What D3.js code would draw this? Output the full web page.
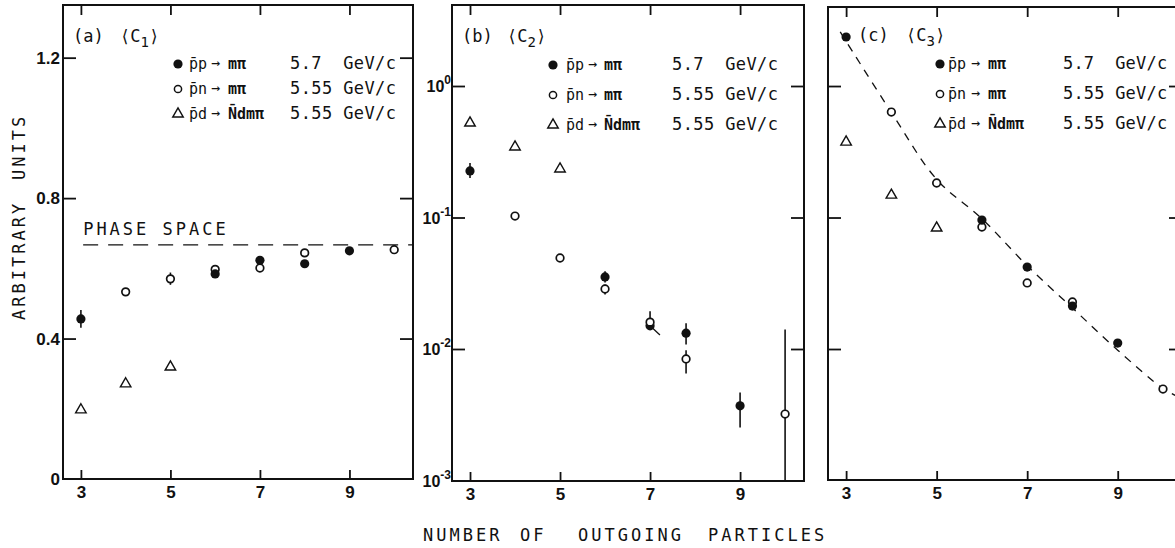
<!DOCTYPE html>
<html><head><meta charset="utf-8">
<script src="https://cdn.jsdelivr.net/npm/d3@7"></script>
<style>
body{margin:0;background:#fff;}
svg{display:block;}
text{fill:#111;white-space:pre;}
.mono{font-family:"DejaVu Sans Mono",monospace;}
.tk{font-family:"Liberation Sans",Arial,sans-serif;font-weight:bold;}
</style></head><body>
<svg id="chart" width="1175" height="548"></svg>
<script>
// ---------------- data ----------------
const xTicks = [3, 5, 7, 9];
const aYTicks = [0, 0.4, 0.8, 1.2];
const logTicks = [1e-3, 1e-2, 1e-1, 1];
const logExp = ["-3", "-2", "-1", "0"];

// panel (a) <C1>
const aFilledX = [3, 6, 7, 8, 9];
const aFilledY = [0.456, 0.584, 0.623, 0.613, 0.650];
const aFilledErr = [[0.431, 0.481], null, null, null, null];
const aOpenX = [4, 5, 6, 7, 8, 10];
const aOpenY = [0.533, 0.570, 0.597, 0.601, 0.644, 0.653];
const aOpenErr = [null, [0.553, 0.588], null, null, null, null];
const aTriX = [3, 4, 5];
const aTriY = [0.197, 0.271, 0.319];
const phaseX = [3.05, 10.4];
const phaseY = [0.667, 0.667];

// panel (b) <C2>
const bFilledX = [3, 6, 7, 7.8, 9];
const bFilledY = [0.226, 0.0353, 0.0150, 0.0132, 0.0037];
const bFilledErr = [[0.200, 0.260], [0.032, 0.039], null, [0.0108, 0.0157], [0.00253, 0.00467]];
const bOpenX = [4, 5, 6, 7, 7.8, 10];
const bOpenY = [0.1026, 0.0492, 0.0286, 0.0160, 0.0084, 0.0032];
const bOpenErr = [null, null, [0.026, 0.031], [0.0143, 0.0194], [0.0065, 0.0098], [0.001, 0.0141]];
const bTriX = [3, 4, 5];
const bTriY = [0.523, 0.344, 0.234];
const bSlashX = [7, 7.22];
const bSlashY = [0.0150, 0.0128];

// panel (c) <C3>
const cFilledX = [3, 6, 7, 8, 9];
const cFilledY = [2.36, 0.0957, 0.0420, 0.0212, 0.0111];
const cOpenX = [4, 5, 6, 7, 8, 10];
const cOpenY = [0.634, 0.183, 0.0847, 0.0318, 0.0228, 0.00496];
const cTriX = [3, 4, 5];
const cTriY = [0.375, 0.148, 0.0832];
const cCurveX = [2.87, 4, 5, 6, 7, 8, 9, 10, 10.3];
const cCurveY = [2.58, 0.63, 0.195, 0.098, 0.043, 0.0205, 0.0098, 0.0050, 0.0044];

// legend
const legReac = ["p\u0304p", "p\u0304n", "p\u0304d"];
const legProd = ["m\u03c0", "m\u03c0", "N\u0304dm\u03c0"];
const legEnergy = ["5.7  GeV/c", "5.55 GeV/c", "5.55 GeV/c"];
const legSym = ["filled", "open", "tri"];
const panelLetters = ["(a)", "(b)", "(c)"];
const panelSubs = ["1", "2", "3"];

// ---------------- drawing ----------------
const svg = d3.select("#chart");
const ink = "#111";

const panels = [
  {left: 63, right: 413, top: 5, bottom: 479, log: false, yDomain: [0, 1.35], yRange: [479, 5],
   leg: {mx: 178, y0: 69, dy: 25, reac: 189, arrow: 211, prod: 228, en: 290, es: 0.4}, title: {x: 73, y: 42, cx: 120}},
  {left: 452, right: 804, top: 5, bottom: 481, log: true, yDomain: [1e-3, Math.pow(10, 0.616)], yRange: [480.5, 5],
   leg: {mx: 553, y0: 70, dy: 30, reac: 566, arrow: 588, prod: 604, en: 672, es: 0.4}, title: {x: 462, y: 42, cx: 507}},
  {left: 828, right: 1182, top: 7, bottom: 480, log: true, yDomain: [1e-3, Math.pow(10, 0.601)], yRange: [480.5, 7],
   leg: {mx: 940, y0: 69, dy: 30, reac: 948, arrow: 971, prod: 988, en: 1063, es: 0.2}, title: {x: 858, y: 41, cx: 906}}
];

panels.forEach(p => {
  p.x = d3.scaleLinear().domain([2.6, 10.42]).range([p.left, p.right]);
  p.y = p.log ? d3.scaleLog().domain(p.yDomain).range(p.yRange)
              : d3.scaleLinear().domain(p.yDomain).range(p.yRange);
  p.g = svg.append("g");
});

function styleAxis(sel) {
  sel.select(".domain").remove();
  sel.selectAll(".tick line").attr("stroke", ink).attr("stroke-width", 1.8);
}

// axes
panels.forEach((p, i) => {
  const g = p.g;
  const bx = g.append("g").attr("transform", `translate(0,${p.bottom})`)
    .call(d3.axisBottom(p.x).tickValues(xTicks).tickSize(-9).tickPadding(7).tickFormat(d3.format("d")));
  styleAxis(bx);
  bx.selectAll("text").attr("class", "tk").attr("font-size", 17).attr("fill", ink);
  const tx = g.append("g").attr("transform", `translate(0,${p.top})`)
    .call(d3.axisTop(p.x).tickValues(xTicks).tickSize(-10).tickFormat(""));
  styleAxis(tx);
  if (!p.log) {
    const ly = g.append("g").attr("transform", `translate(${p.left},0)`)
      .call(d3.axisLeft(p.y).tickValues(aYTicks).tickSize(-13).tickPadding(3)
        .tickFormat(d => d === 0 ? "0" : d3.format(".1f")(d)));
    styleAxis(ly);
    ly.selectAll("text").attr("class", "tk").attr("font-size", 17).attr("fill", ink);
    ly.selectAll(".tick").filter(d => d === 0).select("line").remove();
    const ry = g.append("g").attr("transform", `translate(${p.right},0)`)
      .call(d3.axisRight(p.y).tickValues(aYTicks.slice(1)).tickSize(-13).tickFormat(""));
    styleAxis(ry);
  } else {
    const ly = g.append("g").attr("transform", `translate(${p.left},0)`)
      .call(d3.axisLeft(p.y).tickValues(logTicks.slice(1)).tickSize(-13).tickFormat(""));
    styleAxis(ly);
    const ry = g.append("g").attr("transform", `translate(${p.right},0)`)
      .call(d3.axisRight(p.y).tickValues(logTicks.slice(1)).tickSize(-13).tickFormat(""));
    styleAxis(ry);
    if (i === 1) {
      const lab = g.append("g").selectAll("text").data(logTicks).join("text")
        .attr("class", "tk").attr("font-size", 16).attr("text-anchor", "end")
        .attr("x", p.left - 1).attr("y", d => p.y(d) + 6);
      lab.append("tspan").text("10");
      lab.append("tspan").attr("font-size", 12).attr("dy", -8).text((d, k) => logExp[k]);
    }
  }
  g.append("rect").attr("x", p.left).attr("y", p.top)
    .attr("width", p.right - p.left).attr("height", p.bottom - p.top)
    .attr("fill", "none").attr("stroke", ink).attr("stroke-width", 2);
});

function errBars(p, xs, errs) {
  const d = xs.map((x, k) => ({x, e: errs[k]})).filter(o => o.e);
  p.g.append("g").selectAll("line").data(d).join("line")
    .attr("x1", o => p.x(o.x)).attr("x2", o => p.x(o.x))
    .attr("y1", o => p.y(o.e[0])).attr("y2", o => p.y(o.e[1]))
    .attr("stroke", ink).attr("stroke-width", 1.6);
}
function pts(xs, ys) { return xs.map((x, k) => ({x, y: ys[k]})); }
function drawFilled(p, xs, ys) {
  p.g.append("g").selectAll("circle").data(pts(xs, ys)).join("circle")
    .attr("cx", o => p.x(o.x)).attr("cy", o => p.y(o.y)).attr("r", 4.6).attr("fill", ink);
}
function drawOpen(p, xs, ys) {
  p.g.append("g").selectAll("circle").data(pts(xs, ys)).join("circle")
    .attr("cx", o => p.x(o.x)).attr("cy", o => p.y(o.y)).attr("r", 3.8)
    .attr("fill", "#fff").attr("stroke", ink).attr("stroke-width", 1.7);
}
const triSym = d3.symbol().type(d3.symbolTriangle).size(48);
function drawTri(p, xs, ys) {
  p.g.append("g").selectAll("path").data(pts(xs, ys)).join("path")
    .attr("d", triSym).attr("transform", o => `translate(${p.x(o.x)},${p.y(o.y)})`)
    .attr("fill", "#fff").attr("stroke", ink).attr("stroke-width", 1.4);
}
function drawLine(p, xs, ys, dash, curve) {
  const line = d3.line().x(o => p.x(o.x)).y(o => p.y(o.y)).curve(curve || d3.curveLinear);
  p.g.append("path").attr("d", line(pts(xs, ys))).attr("fill", "none")
    .attr("stroke", ink).attr("stroke-width", 1.3).attr("stroke-dasharray", dash);
}

const [pa, pb, pc] = panels;
drawLine(pa, phaseX, phaseY, "15,10");
errBars(pa, aFilledX, aFilledErr);
errBars(pa, aOpenX, aOpenErr);
drawOpen(pa, aOpenX, aOpenY);
drawFilled(pa, aFilledX, aFilledY);
drawTri(pa, aTriX, aTriY);
pa.g.append("text").attr("class", "mono").attr("font-size", 17).attr("letter-spacing", 3)
  .attr("x", pa.x(3.05)).attr("y", 235).text("PHASE SPACE");

errBars(pb, bFilledX, bFilledErr);
errBars(pb, bOpenX, bOpenErr);
drawLine(pb, bSlashX, bSlashY, null);
drawFilled(pb, bFilledX, bFilledY);
drawOpen(pb, bOpenX, bOpenY);
drawTri(pb, bTriX, bTriY);

drawLine(pc, cCurveX, cCurveY, "8,7", d3.curveCatmullRom);
drawOpen(pc, cOpenX, cOpenY);
drawFilled(pc, cFilledX, cFilledY);
drawTri(pc, cTriX, cTriY);

panels.forEach((p, i) => {
  const L = p.leg, g = p.g;
  legSym.forEach((s, k) => {
    const cy = L.y0 + k * L.dy - 5;
    if (s === "filled") g.append("circle").attr("cx", L.mx).attr("cy", cy).attr("r", 4.6).attr("fill", ink);
    else if (s === "open") g.append("circle").attr("cx", L.mx).attr("cy", cy).attr("r", 3.6)
      .attr("fill", "#fff").attr("stroke", ink).attr("stroke-width", 1.5);
    else g.append("path").attr("d", triSym).attr("transform", `translate(${L.mx},${cy})`)
      .attr("fill", "#fff").attr("stroke", ink).attr("stroke-width", 1.4);
    const yb = L.y0 + k * L.dy;
    g.append("text").attr("class", "mono").attr("font-size", 15).attr("x", L.reac).attr("y", yb).text(legReac[k]);
    g.append("text").attr("class", "mono").attr("font-size", 15).attr("x", L.arrow).attr("y", yb - 1).text("\u2192");
    g.append("text").attr("class", "mono").attr("font-size", 15).attr("font-weight", "bold")
      .attr("x", L.prod).attr("y", yb).text(legProd[k]);
    g.append("text").attr("class", "mono").attr("font-size", 17).attr("letter-spacing", L.es)
      .attr("x", L.en).attr("y", yb).text(legEnergy[k]);
  });
  const T = p.title;
  g.append("text").attr("class", "mono").attr("font-size", 17).attr("x", T.x).attr("y", T.y).text(panelLetters[i]);
  const t2 = g.append("text").attr("class", "mono").attr("font-size", 17).attr("x", T.cx).attr("y", T.y);
  t2.append("tspan").text("\u27e8C");
  t2.append("tspan").attr("font-size", 14).attr("dy", 5).text(panelSubs[i]);
  t2.append("tspan").attr("dy", -5).text("\u27e9");
});

const xt = svg.append("g");
[["NUMBER", 423], ["OF", 520], ["OUTGOING", 578], ["PARTICLES", 708]].forEach(([w, x]) => {
  xt.append("text").attr("class", "mono").attr("font-size", 17).attr("letter-spacing", 3)
    .attr("x", x).attr("y", 541).text(w);
});
const yt = svg.append("g").attr("transform", "translate(25,0) rotate(-90)");
[["ARBITRARY", -320], ["UNITS", -180]].forEach(([w, x]) => {
  yt.append("text").attr("class", "mono").attr("font-size", 17).attr("letter-spacing", 3)
    .attr("x", x).attr("y", 0).text(w);
});
</script>
</body></html>
